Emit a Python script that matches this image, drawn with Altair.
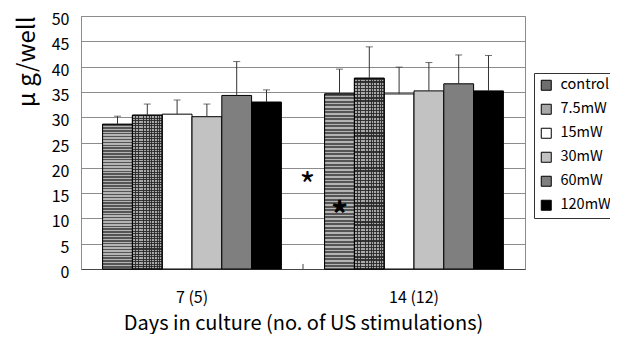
import altair as alt
import pandas as pd

days = ["7 (5)", "14 (12)"]
series = ["control", "7.5mW", "15mW", "30mW", "60mW", "120mW"]
means_d7 = [28.6, 30.4, 30.6, 30.1, 34.3, 33.0]
errs_d7 = [1.6, 2.2, 2.8, 2.5, 6.7, 2.4]
means_d14 = [34.6, 37.7, 34.6, 35.2, 36.6, 35.2]
errs_d14 = [4.9, 6.2, 5.3, 5.6, 5.7, 7.0]
base_colors = ["#6e6e6e", "#a8a8a8", "#ffffff", "#c2c2c2", "#7f7f7f", "#000000"]
star_day = ["14 (12)", "14 (12)"]
star_series = ["control", "control"]
star_y = [18.0, 12.3]

rows = []
for d, ms, es in [(days[0], means_d7, errs_d7), (days[1], means_d14, errs_d14)]:
    for s, m, e in zip(series, ms, es):
        rows.append({"day": d, "series": s, "value": m, "top": m + e})
df = pd.DataFrame(rows)

FONT = "Noto Sans CJK JP"

def stripes(c1, c2, n, frac, vertical=True):
    stops = []
    for i in range(n):
        a = i / n
        b = (i + frac) / n
        c = (i + 1) / n
        stops += [alt.GradientStop(offset=a, color=c1), alt.GradientStop(offset=b, color=c1),
                  alt.GradientStop(offset=b, color=c2), alt.GradientStop(offset=c, color=c2)]
    if vertical:
        return alt.LinearGradient(gradient="linear", stops=stops, x1=0, x2=0, y1=0, y2=1)
    return alt.LinearGradient(gradient="linear", stops=stops, x1=0, x2=1, y1=0, y2=0)

xaxis = alt.Axis(title="Days in culture (no. of US stimulations)", labelAngle=0,
                 labelFontSize=16, labelPadding=20, ticks=False,
                 domainColor="#444", titleFontSize=20, titleFontWeight="normal",
                 titlePadding=8)
xscale = alt.Scale(paddingInner=0, paddingOuter=0)
yaxis = alt.Axis(values=list(range(0, 51, 5)), title="μ g/well", labelFontSize=16,
                 labelPadding=12, labelOffset=3.5, ticks=False, gridColor="#8c8c8c",
                 labelOverlap=False, domainColor="#8c8c8c", titleFontSize=24,
                 titleFontWeight="normal", titleAnchor="end", titlePadding=12)
yscale = alt.Scale(domain=[0, 50])

def X(**kw):
    return alt.X("day:N", sort=days, scale=xscale, axis=xaxis, **kw)

def XO():
    return alt.XOffset("series:N", sort=series,
                       scale=alt.Scale(paddingInner=0, paddingOuter=0.725))

def Y(field):
    return alt.Y(field, scale=yscale, axis=yaxis)

base = alt.Chart(df)

bars = base.mark_bar(stroke="black", strokeWidth=1).encode(
    x=X(), xOffset=XO(), y=Y("value:Q"),
    color=alt.Color("series:N", sort=series,
                    scale=alt.Scale(domain=series, range=base_colors),
                    legend=alt.Legend(title=None, orient="none", legendX=453, legendY=57,
                                      labelFontSize=14.5, symbolType="square", symbolSize=100,
                                      symbolStrokeColor="black", symbolStrokeWidth=1,
                                      labelOffset=7, rowPadding=8, padding=5,
                                      strokeColor="#333", fillColor="white",
                                      labelFont=FONT)),
)

ctrl = base.transform_filter(alt.datum.series == "control").mark_bar(
    fill=stripes("#555555", "#b4b4b4", 50, 0.5), stroke="black", strokeWidth=1).encode(
    x=X(), xOffset=XO(), y=Y("value:Q"))

grid_h = base.transform_filter(alt.datum.series == "7.5mW").mark_bar(
    fill=stripes("rgba(40,40,40,0.9)", "rgba(255,255,255,0)", 60, 0.4)).encode(
    x=X(), xOffset=XO(), y=Y("value:Q"))
grid_v = base.transform_filter(alt.datum.series == "7.5mW").mark_bar(
    fill=stripes("rgba(40,40,40,0.9)", "rgba(255,255,255,0)", 11, 0.35, vertical=False),
    stroke="black", strokeWidth=1).encode(
    x=X(), xOffset=XO(), y=Y("value:Q"))

err = base.mark_rule(color="#333", strokeWidth=1).encode(
    x=X(), xOffset=XO(), y=Y("value:Q"), y2="top:Q")
cap = base.mark_tick(color="#333", thickness=1, size=7, orient="horizontal").encode(
    x=X(), xOffset=XO(), y=Y("top:Q"))

sep = alt.Chart(pd.DataFrame({"day": [days[1]], "value": [0], "y1": [1]})).mark_rule(
    color="#444").encode(x=X(bandPosition=0), y=Y("value:Q"), y2="y1:Q")

stars_df = pd.DataFrame({"day": star_day, "series": star_series, "value": star_y})
star1 = alt.Chart(stars_df.iloc[[0]]).mark_text(text="*", fontSize=34, font=FONT,
                                                  baseline="middle", dy=10, dx=-32).encode(
    x=X(), xOffset=XO(), y=Y("value:Q"))
star2 = alt.Chart(stars_df.iloc[[1]]).mark_text(text="*", fontSize=34, font=FONT,
                                                  fontWeight="bold", baseline="middle", dy=10).encode(
    x=X(), xOffset=XO(), y=Y("value:Q"))

chart = alt.layer(bars, ctrl, grid_h, grid_v, err, cap, sep, star1, star2).properties(
    width=444, height=253,
    autosize=alt.AutoSizeParams(type="none"),
    padding={"left": 73, "top": 8, "right": 85, "bottom": 65},
).configure_view(stroke="#8c8c8c").configure_axis(
    labelFont=FONT, titleFont=FONT, labelColor="black", titleColor="black"
).configure_legend(labelFont=FONT)

chart.save("out.html", embed_options={"renderer": "svg", "actions": False})
